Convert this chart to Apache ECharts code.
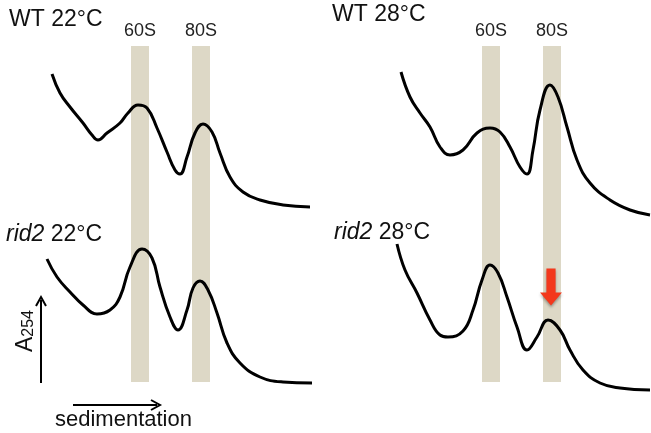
<!DOCTYPE html>
<html>
<head>
<meta charset="utf-8">
<script src="https://cdn.jsdelivr.net/npm/echarts@6/dist/echarts.min.js"></script>
<style>
  html, body { margin: 0; padding: 0; background: #fff; }
  #chart { width: 651px; height: 433px; }
</style>
</head>
<body>
<div id="chart"></div>
<script>
// sedimentation position (x) vs A254 (y), arbitrary units
const wt22 = [[52,146],[60,127],[70,113],[83,97],[92,85],[98,80],[107,87],[120,97],[128,107],[138,115],[147,112],[157,92],[167,68],[175,50],[180,46],[187,63],[195,87],[203,96],[212,88],[220,67],[230,43],[243,28],[260,20],[283,15],[310,13]]
const rid22 = [[47,141],[57,123],[70,108],[83,95],[97,86],[110,90],[120,103],[130,133],[142,151],[152,142],[160,113],[170,83],[178,70],[187,90],[193,112],[200,119],[208,110],[217,87],[227,57],[240,37],[260,23],[283,18],[312,17]]
const wt28 = [[50,148],[59,123],[69,107],[79,93],[89,73],[99,65],[112,70],[126,87],[139,92],[149,88],[159,73],[169,53],[176,46],[182,70],[189,110],[199,135],[207,123],[216,93],[226,60],[239,37],[259,20],[279,10],[299,5]]
const rid28 = [[46,156],[54,130],[66,107],[79,80],[89,65],[97,63],[112,69],[122,90],[131,120],[139,135],[147,127],[156,103],[166,73],[176,50],[186,63],[197,80],[209,70],[219,50],[232,30],[249,17],[269,12],[299,10]]

// ribosome fractions (x range on the sedimentation axis)
const bandNames = ['60S', '80S']
const bandFrom = [131, 192]
const bandTo = [149, 210]

const panelTitles = ['WT 22°C', 'rid2 22°C', 'WT 28°C', 'rid2 28°C']
const arrowAt = [200, 113] // red arrow, rid2 28°C, 80S

const font = 'Liberation Sans, Arial, sans-serif'
const bandColor = '#ddd8c6'

const chart = echarts.init(document.getElementById('chart'))

function bands(top) {
  return {
    silent: true,
    itemStyle: { color: bandColor },
    label: {
      show: top,
      position: 'top',
      distance: 6,
      color: '#222',
      fontFamily: font,
      fontSize: 18
    },
    data: bandNames.map((n, i) => [
      { name: n, xAxis: bandFrom[i], yAxis: top ? 174 : 180 },
      { xAxis: bandTo[i], yAxis: top ? 0 : 18 }
    ])
  }
}

function trace(idx, data, top, extra) {
  return Object.assign({
    type: 'line',
    xAxisIndex: idx,
    yAxisIndex: idx,
    data: data,
    smooth: 0.45,
    symbol: 'none',
    lineStyle: { color: '#000', width: 3 },
    markArea: bands(top),
    z: 3
  }, extra || {})
}

const grids = [
  { left: 0, top: 40, width: 330, height: 180 },
  { left: 0, top: 220, width: 330, height: 180 },
  { left: 351, top: 40, width: 300, height: 180 },
  { left: 351, top: 220, width: 300, height: 180 }
]

function titleText(i, x, y) {
  const parts = panelTitles[i].split(' ')
  const rich = parts[0] === 'rid2'
  return {
    type: 'text',
    left: x,
    top: y,
    style: {
      text: rich ? '{i|' + parts[0] + '} ' + parts[1] : panelTitles[i],
      fontFamily: font,
      fontSize: 23,
      fill: '#111',
      rich: { i: { fontStyle: 'italic', fontSize: 23, fontFamily: font, fill: '#111' } }
    }
  }
}

chart.setOption({
  animation: false,
  grid: grids,
  xAxis: grids.map((g, i) => ({ gridIndex: i, type: 'value', min: 0, max: i < 2 ? 330 : 300, show: false })),
  yAxis: grids.map((g, i) => ({ gridIndex: i, type: 'value', min: 0, max: 180, show: false })),
  series: [
    trace(0, wt22, true),
    trace(1, rid22, false),
    trace(2, wt28, true),
    trace(3, rid28, false, {
      markPoint: {
        silent: true,
        symbol: 'path://M7,0 L17,0 L17,24 L24,24 L12,37 L0,24 L7,24 Z',
        symbolSize: [22, 37],
        itemStyle: { color: '#f3381c', shadowBlur: 3, shadowColor: 'rgba(0,0,0,0.35)', shadowOffsetY: 2 },
        label: { show: false },
        data: [{ coord: arrowAt }]
      }
    })
  ],
  graphic: [
    titleText(0, 9, 8),
    titleText(1, 6, 223),
    titleText(2, 332, 3),
    titleText(3, 334, 221),
    // A254 axis arrow
    { type: 'line', shape: { x1: 41, y1: 383, x2: 41, y2: 300 }, style: { stroke: '#000', lineWidth: 2 } },
    { type: 'polyline', shape: { points: [[36, 306], [41, 297], [46, 306]] }, style: { stroke: '#000', lineWidth: 2, fill: null } },
    {
      type: 'text', x: 24, y: 331, rotation: Math.PI / 2,
      style: {
        text: '{a|A}{s|254}',
        align: 'center', verticalAlign: 'middle',
        rich: {
          a: { fontSize: 23, fontFamily: font, fill: '#111', verticalAlign: 'bottom', lineHeight: 26 },
          s: { fontSize: 16, fontFamily: font, fill: '#111', verticalAlign: 'bottom', lineHeight: 18 }
        }
      }
    },
    // sedimentation arrow
    { type: 'line', shape: { x1: 73, y1: 405, x2: 157, y2: 405 }, style: { stroke: '#000', lineWidth: 2 } },
    { type: 'polyline', shape: { points: [[151, 400], [160, 405], [151, 410]] }, style: { stroke: '#000', lineWidth: 2, fill: null } },
    {
      type: 'text', left: 55, top: 409,
      style: { text: 'sedimentation', fontFamily: font, fontSize: 22, fill: '#111' }
    }
  ]
})
</script>
</body>
</html>
